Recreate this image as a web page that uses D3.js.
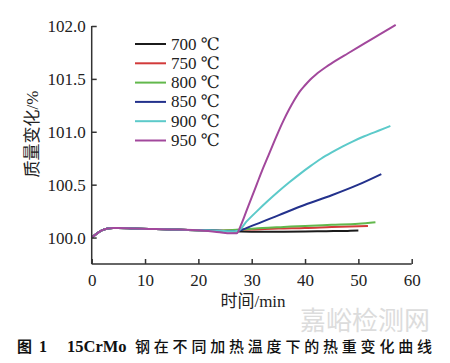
<!DOCTYPE html>
<html><head><meta charset="utf-8">
<script src="https://cdn.jsdelivr.net/npm/d3@7"></script>
<style>body{margin:0;background:#fff}svg{display:block}</style>
</head><body>
<svg id="c" width="450" height="363"></svg>
<script>
const seriesNames = ["700 ℃","750 ℃","800 ℃","850 ℃","900 ℃","950 ℃"];
const seriesColors = ["#1b1b1b","#d23a3a","#62b84c","#23318c","#5ccaca","#a2489c"];
const tEarly = [0,1,2,3,4,5,8,12,16,20,24];
const vEarly = [100.00,100.04,100.07,100.085,100.09,100.09,100.085,100.08,100.075,100.07,100.065];
const t700 = [28,32,36,40,44,48,50];
const v700 = [100.058,100.056,100.056,100.057,100.06,100.063,100.066];
const t750 = [26,30,35,40,45,51.8];
const v750 = [100.07,100.075,100.085,100.09,100.10,100.11];
const t800 = [26,28,32,36,40,45,50,53.2];
const v800 = [100.07,100.075,100.09,100.10,100.11,100.12,100.13,100.145];
const t850 = [26,27.5,30,35,40,45,50,54.3];
const v850 = [100.06,100.065,100.11,100.21,100.31,100.40,100.50,100.60];
const t900 = [26,27.5,29,31,33,35,37,39,41,43,45,47,49,51,53,55,56];
const v900 = [100.06,100.065,100.15,100.25,100.345,100.435,100.52,100.60,100.675,100.745,100.805,100.86,100.91,100.955,100.995,101.035,101.055];
const t950 = [26,27.2,28,29,30,31,32,33,34,35,36,37,38,39,40,41,42,44,46,48,51,54,57];
const v950 = [100.04,100.04,100.12,100.25,100.38,100.51,100.64,100.76,100.88,101.00,101.11,101.21,101.30,101.38,101.44,101.495,101.54,101.615,101.68,101.74,101.83,101.92,102.01];
const xTicks = [0,10,20,30,40,50,60];
const yTicks = [100.0,100.5,101.0,101.5,102.0];

const svg = d3.select("#c");
const x = d3.scaleLinear().domain([0,60]).range([91.7,411.7]);
const y = d3.scaleLinear().domain([99.75,102.0]).range([264,26]);

function build(tt, vv){ return tt.map((t,i)=>[t,vv[i]]); }
const early = build(tEarly, vEarly);
const early950 = build(tEarly.slice(0,10), vEarly.slice(0,10)).concat([[24,100.05]]);
const data = [
  early.concat(build(t700,v700)),
  early.concat(build(t750,v750)),
  early.concat(build(t800,v800)),
  early.concat(build(t850,v850)),
  early.concat(build(t900,v900)),
  early950.concat(build(t950,v950))
];

const line = d3.line().x(d=>x(d[0])).y(d=>y(d[1])).curve(d3.curveMonotoneX);
const serif = "'Liberation Serif','DejaVu Serif',serif";

data.forEach((d,i)=>{
  svg.append("path").attr("d",line(d)).attr("fill","none")
    .attr("stroke",seriesColors[i]).attr("stroke-width",2).attr("stroke-linejoin","round");
});

// axes
const xAxis = d3.axisBottom(x).tickValues(xTicks).tickSize(-5).tickPadding(10).tickFormat(d3.format("d"));
const gx = svg.append("g").attr("transform","translate(0,264)").call(xAxis);
const yAxis = d3.axisLeft(y).tickValues(yTicks).tickSize(-5).tickPadding(6).tickFormat(d3.format(".1f"));
const gy = svg.append("g").attr("transform","translate(91.7,0)").call(yAxis);
[gx,gy].forEach(g=>{
  g.select(".domain").attr("stroke","#333").attr("stroke-width",1.5);
  g.selectAll(".tick line").attr("stroke","#333").attr("stroke-width",1.5);
  g.selectAll(".tick text").attr("fill","#222").style("font-family",serif).style("font-size","17px");
});
gy.select(".domain").attr("d","M0,264V26");
gx.select(".domain").attr("d","M91.7,0H411.7");

// legend
seriesNames.forEach((n,i)=>{
  const yy = 44 + i*19.3;
  svg.append("line").attr("x1",135).attr("x2",166).attr("y1",yy).attr("y2",yy)
    .attr("stroke",seriesColors[i]).attr("stroke-width",2);
  svg.append("text").attr("x",171).attr("y",yy+5.5).text(n)
    .style("font-family",serif).style("font-size","17px").attr("fill","#222");
});

// axis titles
svg.append("text").attr("transform","translate(38,134) rotate(-90)").attr("text-anchor","middle")
  .style("font-family",serif+",'Noto Sans CJK SC'").style("font-size","17px").attr("fill","#222").text("质量变化/%");
svg.append("text").attr("x",253).attr("y",307).attr("text-anchor","middle")
  .style("font-family",serif+",'Noto Sans CJK SC'").style("font-size","17px").attr("fill","#222").text("时间/min");

// watermark
svg.append("text").attr("x",300).attr("y",330).style("font-family","'Noto Sans CJK SC'")
  .style("font-size","26px").attr("fill","#dcdcdc").text("嘉峪检测网");

// caption
const cap = svg.append("text").attr("x",17).attr("y",352).attr("fill","#111").style("font-size","15px");
cap.append("tspan").style("font-family","'Noto Sans CJK SC'").style("font-weight","bold").text("图");
cap.append("tspan").attr("x",39).style("font-family",serif).style("font-weight","bold").style("font-size","16px").text("1");
cap.append("tspan").attr("x",67).style("font-family",serif).style("font-weight","bold").style("font-size","16.5px").text("15CrMo");
cap.append("tspan").attr("x",135).style("font-family","'Noto Sans CJK SC'").style("font-weight","500")
  .style("letter-spacing","3.8px").text("钢在不同加热温度下的热重变化曲线");
</script>
</body></html>
